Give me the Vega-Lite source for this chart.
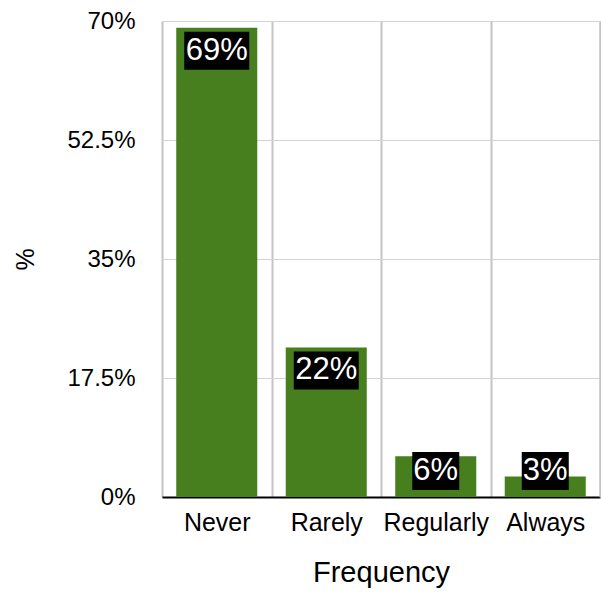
{
  "$schema": "https://vega.github.io/schema/vega-lite/v6.json",
  "width": 438,
  "height": 476,
  "autosize": "none",
  "padding": {"left": 162, "top": 21, "right": 1, "bottom": 96},
  "config": {"font": "Liberation Sans", "view": {"stroke": null}},
  "data": {
    "values": [
      {"freq": "Never", "pct": 69, "label": "69%"},
      {"freq": "Rarely", "pct": 22, "label": "22%"},
      {"freq": "Regularly", "pct": 6, "label": "6%"},
      {"freq": "Always", "pct": 3, "label": "3%"}
    ]
  },
  "encoding": {
    "x": {
      "field": "freq",
      "type": "nominal",
      "sort": null,
      "scale": {"paddingInner": 0, "paddingOuter": 0},
      "axis": {
        "title": "Frequency",
        "titleFontSize": 29,
        "titleFontWeight": "normal",
        "titleColor": "black",
        "titleY": 84,
        "titleBaseline": "alphabetic",
        "labelAngle": 0,
        "labelFontSize": 25,
        "labelColor": "black",
        "labelBaseline": "alphabetic",
        "labelPadding": 33,
        "ticks": false,
        "tickSize": 0,
        "domainColor": "black",
        "domainWidth": 2,
        "grid": true,
        "tickBand": "extent",
        "gridColor": "#c4c4c4",
        "gridWidth": 2
      }
    }
  },
  "resolve": {"axis": {"y": "independent"}},
  "layer": [
    {
      "mark": {"type": "bar", "color": "#477f1e", "width": {"band": 0.74}},
      "encoding": {
        "y": {
          "field": "pct",
          "type": "quantitative",
          "scale": {"domain": [0, 70], "nice": false},
          "axis": {
            "title": "%",
            "titleFontSize": 25,
            "titleFontWeight": "normal",
            "titleColor": "black",
            "titleAngle": -90,
            "titleX": -137,
            "titleY": 238,
            "titleAlign": "center",
            "titleBaseline": "middle",
            "values": [0, 17.5, 35, 52.5, 70],
            "labelExpr": "datum.value + '%'",
            "labelFontSize": 24,
            "labelColor": "black",
            "labelPadding": 27,
            "ticks": false,
            "tickSize": 0,
            "domain": false,
            "gridColor": "#d3d3d3",
            "gridWidth": 1
          }
        }
      }
    },
    {
      "transform": [{"filter": "datum.pct >= 10"}],
      "mark": {"type": "bar", "color": "black", "width": 65, "yOffset": 4, "y2Offset": 42},
      "encoding": {
        "y": {"field": "pct", "type": "quantitative", "axis": {
          "orient": "right", "title": null, "labels": false, "ticks": false, "grid": false,
          "domain": true, "domainColor": "#c4c4c4", "domainWidth": 2
        }},
        "y2": {"field": "pct"}
      }
    },
    {
      "transform": [{"filter": "datum.pct < 10"}],
      "mark": {"type": "bar", "color": "black", "width": 47, "yOffset": 4, "y2Offset": 42},
      "encoding": {
        "y": {"datum": 7.2, "type": "quantitative", "axis": null},
        "y2": {"datum": 7.2}
      }
    },
    {
      "transform": [{"filter": "datum.pct >= 10"}],
      "mark": {"type": "text", "color": "white", "fontSize": 31, "baseline": "middle", "dy": 23},
      "encoding": {
        "y": {"field": "pct", "type": "quantitative", "axis": null},
        "text": {"field": "label"}
      }
    },
    {
      "transform": [{"filter": "datum.pct < 10"}],
      "mark": {"type": "text", "color": "white", "fontSize": 31, "baseline": "middle", "dy": 23},
      "encoding": {
        "y": {"datum": 7.2, "type": "quantitative", "axis": null},
        "text": {"field": "label"}
      }
    }
  ]
}
